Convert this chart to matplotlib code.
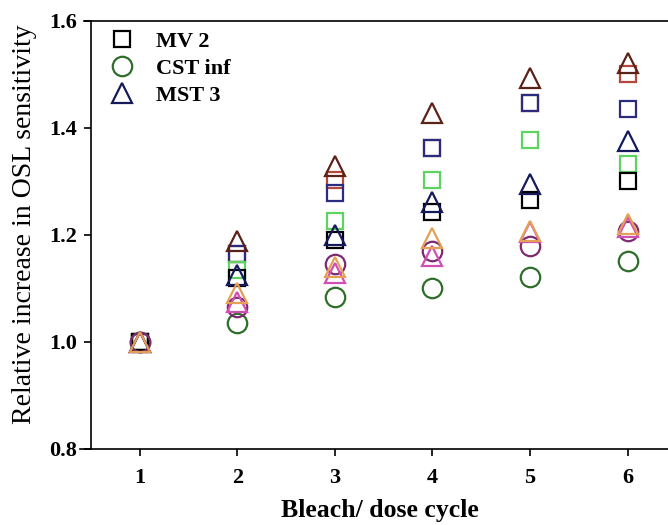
import matplotlib
matplotlib.use("Agg")
import matplotlib.pyplot as plt
from matplotlib.lines import Line2D

cycles = [1, 2, 3, 4, 5, 6]

mv2 = [1.0, 1.120, 1.190, 1.243, 1.265, 1.300]
cst_inf = [1.0, 1.036, 1.084, 1.101, 1.121, 1.151]
mst3 = [1.0, 1.126, 1.200, 1.262, 1.295, 1.376]
brown_tri = [1.0, 1.189, 1.328, 1.428, 1.493, 1.522]
red_sq = [1.0, 1.165, 1.303, 1.362, 1.447, 1.500]
navy_sq = [1.0, 1.165, 1.278, 1.362, 1.447, 1.435]
lgreen_sq = [1.0, 1.135, 1.226, 1.302, 1.377, 1.333]
purple_circ = [1.0, 1.065, 1.145, 1.170, 1.180, 1.208]
pink_tri = [1.0, 1.075, 1.128, 1.160, 1.205, 1.215]
orange_tri = [1.0, 1.092, 1.140, 1.195, 1.208, 1.220]

legend_labels = ["MV 2", "CST inf", "MST 3"]

plt.rcParams['font.family'] = ['Liberation Serif', 'DejaVu Serif']

fig = plt.figure(figsize=(6.68, 5.25), dpi=100)
ax = fig.add_axes([0.136, 0.145, 0.864, 0.815])

series = [
    (red_sq, 's', '#b5483a', 11.5),
    (navy_sq, 's', '#2b2b80', 11.5),
    (lgreen_sq, 's', '#5fd35f', 11.5),
    (mv2, 's', '#000000', 11.5),
    (brown_tri, '^', '#5b2318', 14.5),
    (cst_inf, 'o', '#2f6e2a', 14),
    (purple_circ, 'o', '#7d2a72', 14),
    (pink_tri, '^', '#cf4fb2', 14.5),
    (mst3, '^', '#141a5a', 14.5),
    (orange_tri, '^', '#e6a055', 14.5),
]
for vals, mk, col, ms in series:
    ax.plot(cycles, vals, linestyle='none', marker=mk, markersize=ms,
            markerfacecolor='none', markeredgecolor=col, markeredgewidth=1.6)

ax.set_xlim(0.5, 6.415)
ax.set_ylim(0.8, 1.6)
ax.set_xticks(cycles)
ax.set_yticks([0.8, 1.0, 1.2, 1.4, 1.6])
ax.set_yticklabels(["0.8", "1.0", "1.2", "1.4", "1.6"])
ax.spines['right'].set_visible(False)
for s in ['left', 'bottom', 'top']:
    ax.spines[s].set_linewidth(1.2)
ax.spines['bottom'].set_bounds(0.39, 6.415)
ax.spines['top'].set_bounds(0.43, 6.415)
ax.tick_params(axis='both', direction='out', length=5, width=1.2, labelsize=16)
ax.tick_params(axis='x', pad=9)
ax.tick_params(axis='y', pad=5)
for lbl in ax.get_xticklabels() + ax.get_yticklabels():
    lbl.set_fontweight('bold')

ax.set_xlabel("Bleach/ dose cycle", fontsize=18.5, fontweight='bold')
ax.set_ylabel("Relative increase in OSL sensitivity", fontsize=20)
ax.xaxis.set_label_coords(0.5, -0.117, transform=ax.transAxes)
ax.yaxis.set_label_coords(-0.094, 0.526, transform=ax.transAxes)

handles = [
    Line2D([], [], linestyle='none', marker='s', markersize=11.5, markerfacecolor='none',
           markeredgecolor='#000000', markeredgewidth=1.6),
    Line2D([], [], linestyle='none', marker='o', markersize=14, markerfacecolor='none',
           markeredgecolor='#2f6e2a', markeredgewidth=1.6),
    Line2D([], [], linestyle='none', marker='^', markersize=14.5, markerfacecolor='none',
           markeredgecolor='#141a5a', markeredgewidth=1.6),
]
ax.legend(handles, legend_labels, loc='upper left', frameon=False,
          prop={'weight': 'bold', 'size': 16}, handletextpad=0.9,
          labelspacing=0.28, bbox_to_anchor=(0.016, 0.996), borderaxespad=0.0,
          handlelength=1.2)

fig.savefig("out.png", dpi=100)
